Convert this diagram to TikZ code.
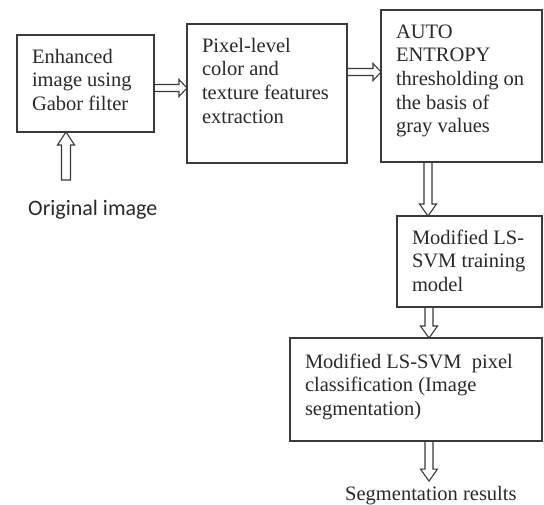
\documentclass[tikz,border=0pt]{standalone}
\usepackage{fontspec}
\setmainfont{Liberation Serif}
\newfontfamily\carlito{Carlito}
\usetikzlibrary{calc}
\definecolor{lc}{HTML}{3A3A3A}
\definecolor{tc}{HTML}{2A2A2A}
\tikzset{
  box/.style={draw=lc, line width=1.2pt, anchor=north west, inner xsep=15pt,
    inner ysep=0pt, outer sep=0pt, text=tc,
    font=\fontsize{20.5}{23.7}\selectfont},
  hollow/.style={draw=lc, line width=1.1pt, line join=miter},
}
\newcommand\boxtext[4]{\parbox[c][#1pt][t]{#2pt}{\raggedright\hbadness=10000\hfuzz=100pt\rule{0pt}{#3pt}#4}}
% horizontal hollow arrow from node #1 (east) to node #2 (west) at y = #3
\newcommand\harrow[3]{\draw[hollow] let \p1=(#1.east), \p2=(#2.west) in
  (\x1,-#3pt+3.5pt) -- (\x2-8pt,-#3pt+3.5pt) -- (\x2-8pt,-#3pt+8.5pt) -- (\x2,-#3pt)
  -- (\x2-8pt,-#3pt-8.5pt) -- (\x2-8pt,-#3pt-3.5pt) -- (\x1,-#3pt-3.5pt);}
% vertical hollow arrow, down from node #1 (south) to node #2 (north) at x = #3
\newcommand\varrow[3]{\draw[hollow] let \p1=(#1.south), \p2=(#2.north) in
  (#3pt-4pt,\y1) -- (#3pt-4pt,\y2+12pt) -- (#3pt-8.5pt,\y2+12pt) -- (#3pt,\y2)
  -- (#3pt+8.5pt,\y2+12pt) -- (#3pt+4pt,\y2+12pt) -- (#3pt+4pt,\y1);}
\begin{document}
\begin{tikzpicture}[x=1pt,y=-1pt]
\fill[white] (0,0) rectangle (544,504);
\useasboundingbox (0,0) rectangle (544,504);

\node[box] (b1) at (17,35) {\boxtext{97}{107}{28}{\mbox{Enhanced}\\\mbox{image using}\\\mbox{Gabor filter}}};
\node[box] (b2) at (187,24) {\boxtext{139}{130}{28}{\mbox{Pixel-level}\\\mbox{color and}\\\mbox{texture features}\\\mbox{extraction}}};
\node[box] (b3) at (381,10) {\boxtext{152}{131}{28}{\mbox{AUTO}\\\mbox{ENTROPY}\\\mbox{thresholding on}\\\mbox{the basis of}\\\mbox{gray values}}};
\node[box] (b4) at (397,216) {\boxtext{91}{115}{28}{\mbox{Modified LS-}\\\mbox{SVM training}\\\mbox{model}}};
\node[box] (b5) at (290,338) {\boxtext{103}{222}{30}{\mbox{Modified LS-SVM~ pixel}\\\mbox{classification (Image}\\\mbox{segmentation)}}};

\node[anchor=base west, inner xsep=0pt, inner ysep=4.5pt, text=tc,
  font=\fontsize{20.5}{24}\selectfont] (res) at (345,500) {Segmentation results};
\node[anchor=base west, inner sep=0pt, text=tc,
  font=\carlito\fontsize{22}{24}\selectfont] (orig) at (28,215) {Original image};
\coordinate (origtop) at (66,180);

\harrow{b1}{b2}{88}
\harrow{b2}{b3}{72}
\varrow{b3}{b4}{428}
\varrow{b4}{b5}{429}
\varrow{b5}{res}{429}
\draw[hollow] let \p1=(origtop), \p2=(b1.south) in
  (\x1-4.5pt,\y1) -- (\x1-4.5pt,\y2-13pt) -- (\x1-8.5pt,\y2-13pt) -- (\x1,\y2)
  -- (\x1+8.5pt,\y2-13pt) -- (\x1+4.5pt,\y2-13pt) -- (\x1+4.5pt,\y1) -- cycle;
\end{tikzpicture}
\end{document}
